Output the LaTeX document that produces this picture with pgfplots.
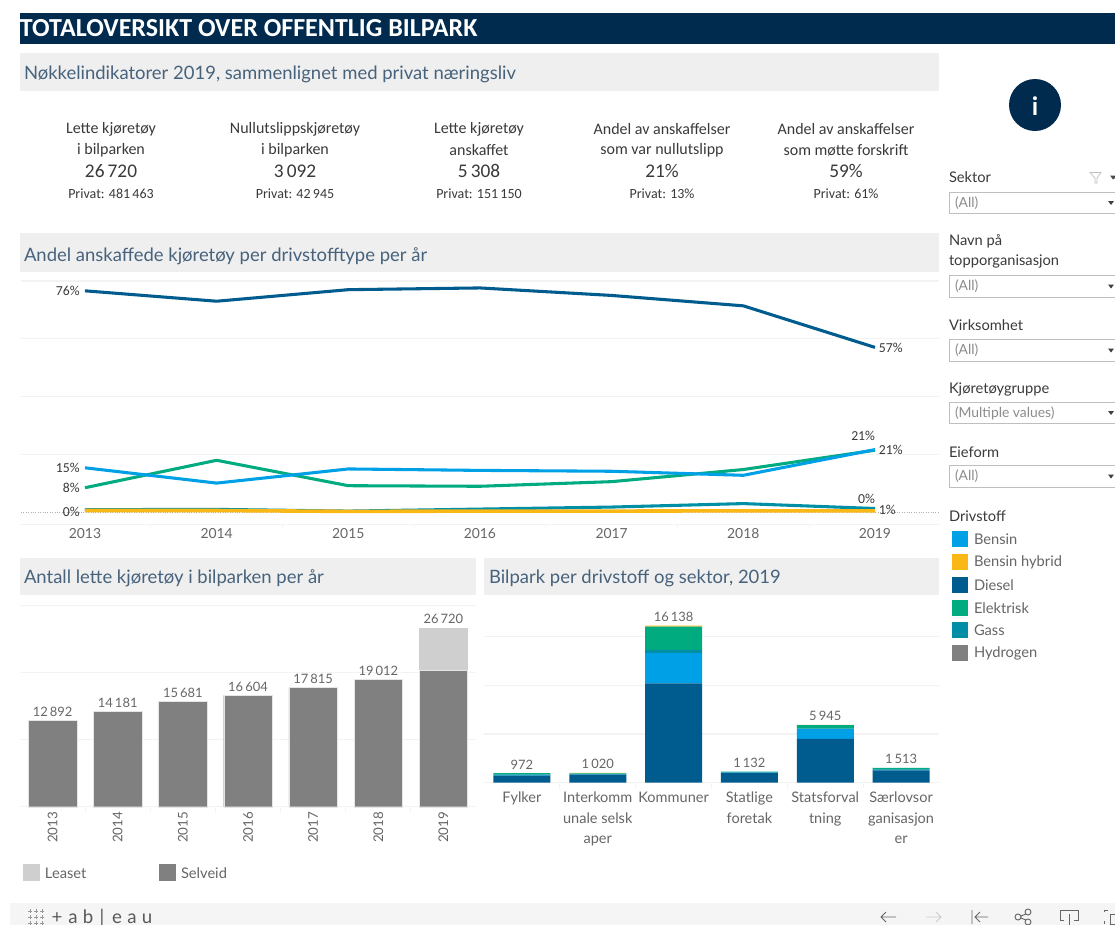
\documentclass[border=0pt]{standalone}
\usepackage{fontspec}
\setmainfont{Lato}
\newfontfamily\cond{Carlito}
\usepackage{pgfplots}
\pgfplotsset{compat=1.18}
\usepackage{pgfplotstable}

\definecolor{navy}{HTML}{002B4E}
\definecolor{band}{HTML}{EFEFEF}
\definecolor{foot}{HTML}{F5F5F5}
\definecolor{ttl}{HTML}{47627C}
\definecolor{txt}{HTML}{3A3A3A}
\definecolor{lbl}{HTML}{666666}
\definecolor{gridc}{HTML}{F3F3F3}
\definecolor{bensin}{HTML}{00A0E6}
\definecolor{hybrid}{HTML}{F9B816}
\definecolor{diesel}{HTML}{005B8F}
\definecolor{elektrisk}{HTML}{00AB80}
\definecolor{gass}{HTML}{008FA5}
\definecolor{hydrogen}{HTML}{808080}
\definecolor{leaset}{HTML}{CFCFCF}

\newcommand\fs[1]{\fontsize{#1}{1.3em}\selectfont}
\newcommand\ts{\kern0.16em}

% share per fuel, %
\pgfplotstableread{
year bensin hybrid diesel elektrisk gass
2013 15.3 0.5 76.6 8.4 0.8
2014 10.0 0.5 73.0 17.9 0.9
2015 14.9 0.2 77.0 9.1 0.3
2016 14.4 0.3 77.6 8.9 1.0
2017 14.1 0.3 75.0 10.5 1.7
2018 12.7 0.4 71.4 14.7 2.9
2019 21.6 0.4 57.0 21.4 1.2
}\andel

% fleet per year
\pgfplotstableread{
pos selveid leaset
0 12892 0
1 14181 0
2 15681 0
3 16604 0
4 17815 0
5 19012 0
6 20400 6320
}\bilpark

% fleet per sector 2019
\pgfplotstableread{
pos diesel bensin gass elektrisk hybrid
0 740 40 60 132 0
1 830 30 30 70 60
2 10200 3100 350 2380 108
3 1000 40 30 62 0
4 4490 1025 30 380 20
5 1270 60 50 133 0
}\sektor

\pgfplotsset{panel/.style={
  scale only axis, clip=false,
  axis y line*=left, axis x line*=bottom,
  y axis line style={draw=none},
  x axis line style={draw=gridc,-},
  major tick length=0pt,
  yticklabels={}, scaled y ticks=false,
  ymajorgrids, grid style={gridc,line width=0.8pt},
  minor x tick style={draw=gridc,line width=0.8pt},
  minor tick length=4pt,
  tick align=outside,
  x tick label style={text=lbl},
}}
\tikzset{total/.style={text=lbl,font=\fs{9.7},anchor=south,yshift=3pt},
  pct/.style={text=txt,font=\cond\fs{10.3}}}

\begin{document}
\begin{tikzpicture}[x=0.75pt,y=-0.75pt,every node/.style={inner sep=0pt,outer sep=0pt}]
\path[use as bounding box,fill=white] (0,0) rectangle (1115,925);

% bands
\fill[navy] (20,13) rectangle (1115,44);
\fill[band] (20,53) rectangle (939,91);
\fill[band] (20,233) rectangle (939,272);
\fill[band] (20,558) rectangle (476,595);
\fill[band] (484,558) rectangle (939,595);
\fill[foot] (10,903) rectangle (1115,925);

\node[anchor=west,text=white] at (20,28.5) {\cond\bfseries\fs{19.5}TOTALOVERSIKT OVER OFFENTLIG BILPARK};
\node[anchor=west,text=ttl] at (24,74.5) {\fs{13.85}Nøkkelindikatorer 2019, sammenlignet med privat næringsliv};
\node[anchor=west,text=ttl] at (24,256) {\fs{13.85}Andel anskaffede kjøretøy per drivstofftype per år};
\node[anchor=west,text=ttl] at (24,578.5) {\fs{13.85}Antall lette kjøretøy i bilparken per år};
\node[anchor=west,text=ttl] at (489,578.5) {\fs{13.85}Bilpark per drivstoff og sektor, 2019};

% key figures
\foreach \cx/\a/\b/\v/\p in {
  111/Lette kjøretøy/i bilparken/26\ts720/481\ts463,
  295/Nullutslippskjøretøy/i bilparken/3\ts092/42\ts945,
  479/Lette kjøretøy/anskaffet/5\ts308/151\ts150,
  662/Andel av anskaffelser/som var nullutslipp/21\%/13\%,
  846/Andel av anskaffelser/som møtte forskrift/59\%/61\%}{
  \node[text=txt] at (\cx,129) {\cond\fs{12}\a};
  \node[text=txt] at (\cx,150) {\cond\fs{12}\b};
  \node[text=txt] at (\cx,171) {\cond\fs{14.5}\v};
  \node[text=txt] at (\cx,193.5) {\cond\fs{10.5}Privat: \p};
}

% info button
\fill[navy] (1035,105) circle[radius=26];
\node[text=white] at (1035,106) {\bfseries\fs{19}i};

% filters
\foreach \y/\t in {177.5/Sektor,241.5/Navn på,261.5/topporganisasjon,325.5/Virksomhet,389.5/Kjøretøygruppe,452.5/Eieform,516.5/Drivstoff}{
  \node[anchor=west,text=txt] at (949,\y) {\fs{11}\t};
}
\foreach \ya/\yb/\t in {192/213/(All),275/297/(All),339/361/(All),402/423/(Multiple values),465/487/(All)}{
  \draw[black!25,line width=0.7pt] (949,\ya) rectangle (1120,\yb);
  \node[anchor=west,text=black!45] at (955,{(\ya+\yb)/2+0.5}) {\fs{10.4}\t};
  \fill[black!75] (1108,{(\ya+\yb)/2-1.5}) -- (1114,{(\ya+\yb)/2-1.5}) -- (1111,{(\ya+\yb)/2+2.5}) -- cycle;
}
\draw[black!25,line width=0.5pt] (1090,172.5) -- (1101,172.5) -- (1097,178) -- (1097,183) -- (1095,183) -- (1095,178) -- cycle;
\fill[black!70] (1110,175.5) -- (1115,175.5) -- (1115,178) -- (1113,179.5) -- cycle;

% fuel legend
\foreach \y/\c/\t in {539/bensin/Bensin,562/hybrid/Bensin hybrid,585/diesel/Diesel,608/elektrisk/Elektrisk,630/gass/Gass,653/hydrogen/Hydrogen}{
  \fill[\c] (952,\y-8) rectangle (968,\y+8);
  \node[anchor=west,text=lbl] at (974,\y) {\fs{11}\t};
}

% bottom-left legend
\fill[leaset] (23,864) rectangle (40,881);
\node[anchor=west,text=lbl] at (45,873) {\fs{11}Leaset};
\fill[hydrogen] (159,864) rectangle (176,881);
\node[anchor=west,text=lbl] at (181,873) {\fs{11}Selveid};

% footer
\foreach \dx in {-6,0,6}{\foreach \dy in {-6,0,6}{
  \draw[black!40,line width=0.5pt] (36+\dx-2,917+\dy) -- (36+\dx+2,917+\dy) (36+\dx,917+\dy-2) -- (36+\dx,917+\dy+2);
}}
\foreach \x/\t in {57/+,73/a,88/b,102/|,117/e,132/a,147/u}{
  \node[anchor=base,text=black!65] at (\x,923) {\fs{14}\t};
}
\begin{scope}[black!60,line width=0.7pt]
\draw (896,917) -- (881,917) (886,912) -- (881,917) -- (886,922);
\draw[black!20] (926,917) -- (941,917) (936,912) -- (941,917) -- (936,922);
\draw (972,910) -- (972,924) (988,917) -- (975,917) (980,912) -- (975,917) -- (980,922);
\draw (1018,917) circle[radius=3] (1028,912) circle[radius=3] (1028,922) circle[radius=3] (1021,916) -- (1026,914) (1021,918) -- (1026,920);
\draw (1064,920) -- (1060,920) -- (1060,910) -- (1078,910) -- (1078,920) -- (1074,920) (1069,914) -- (1069,925);
\draw (1104,912) -- (1104,910) -- (1108,910) (1104,921) -- (1104,924) (1110,914) rectangle (1120,924);
\end{scope}

\coordinate (L) at (21,524);
\coordinate (B) at (20,806.7);
\coordinate (S) at (484,782.7);

% line chart
\begin{axis}[panel, at={(L)}, anchor=south west,
  width=688.5pt, height=182.25pt,
  xmin=2012.514, xmax=2019.486, ymin=-4.17, ymax=80,
  xtick={2013,...,2019}, xticklabels={2013,2014,2015,2016,2017,2018,2019},
  minor xtick={2012.5,2013.5,2014.5,2015.5,2016.5,2017.5,2018.5},
  ytick={20,40,60,80},
  extra y ticks={0}, extra y tick style={grid style={black!30,densely dotted,line width=0.5pt},yticklabels={}},
  x tick label style={font=\fs{10.4},yshift=-3pt},
  every axis plot/.append style={line width=2.3pt,no markers,line join=round},
]
\addplot[diesel] table[x=year,y=diesel] {\andel};
\addplot[elektrisk] table[x=year,y=elektrisk] {\andel};
\addplot[bensin] table[x=year,y=bensin] {\andel};
\addplot[gass] table[x=year,y=gass] {\andel};
\addplot[hybrid,line width=2.7pt] table[x=year,y=hybrid] {\andel};
\node[pct,anchor=east] at (axis cs:2012.96,76.6) {76\%};
\node[pct,anchor=east] at (axis cs:2012.96,15.3) {15\%};
\node[pct,anchor=east] at (axis cs:2012.96,8.4) {8\%};
\node[pct,anchor=east] at (axis cs:2012.96,0) {0\%};
\node[pct,anchor=west] at (axis cs:2019.03,57) {57\%};
\node[pct,anchor=west] at (axis cs:2019.03,21.4) {21\%};
\node[pct,anchor=west] at (axis cs:2019.03,0.6) {1\%};
\node[pct,anchor=east] at (axis cs:2019,26.4) {21\%};
\node[pct,anchor=east] at (axis cs:2019,4.6) {0\%};
\end{axis}

% fleet per year
\begin{axis}[panel, at={(B)}, anchor=south west,
  width=342pt, height=150.75pt,
  xmin=-0.5, xmax=6.5, ymin=0, ymax=30000,
  ybar stacked, bar width=36.4pt,
  xtick={0,...,6}, xticklabels={2013,2014,2015,2016,2017,2018,2019},
  minor xtick={0.5,1.5,2.5,3.5,4.5,5.5},
  ytick={10000,20000,30000},
  x tick label style={font=\fs{10},rotate=90,anchor=east,xshift=-4pt},
]
\addplot[fill=hydrogen,draw=black!10,line width=0.3pt] table[x=pos,y=selveid] {\bilpark};
\addplot[fill=leaset,draw=none] table[x=pos,y=leaset] {\bilpark};
\node[total] at (axis cs:0,12892) {12\ts892};
\node[total] at (axis cs:1,14181) {14\ts181};
\node[total] at (axis cs:2,15681) {15\ts681};
\node[total] at (axis cs:3,16604) {16\ts604};
\node[total] at (axis cs:4,17815) {17\ts815};
\node[total] at (axis cs:5,19012) {19\ts012};
\node[total] at (axis cs:6,26720) {26\ts720};
\end{axis}

% fleet per sector
\begin{axis}[panel, at={(S)}, anchor=south west,
  width=341.25pt, height=137pt,
  xmin=-0.5, xmax=5.5, ymin=0, ymax=18760,
  ybar stacked, bar width=42.75pt,
  xtick={0,...,5},
  xticklabels={Fylker,{Interkomm\\unale selsk\\aper},Kommuner,{Statlige\\foretak},{Statsforval\\tning},{Særlovsor\\ganisasjon\\er}},
  minor xtick={0.5,1.5,2.5,3.5,4.5},
  ytick={5000,10000,15000},
  x tick label style={font=\fontsize{10.9}{15.2}\selectfont,align=center,anchor=north,yshift=-7pt},
]
\addplot[fill=diesel,draw=none] table[x=pos,y=diesel] {\sektor};
\addplot[fill=bensin,draw=none] table[x=pos,y=bensin] {\sektor};
\addplot[fill=gass,draw=none] table[x=pos,y=gass] {\sektor};
\addplot[fill=elektrisk,draw=none] table[x=pos,y=elektrisk] {\sektor};
\addplot[fill=hybrid,draw=none] table[x=pos,y=hybrid] {\sektor};
\node[total] at (axis cs:0,972) {972};
\node[total] at (axis cs:1,1020) {1\ts020};
\node[total] at (axis cs:2,16138) {16\ts138};
\node[total] at (axis cs:3,1132) {1\ts132};
\node[total] at (axis cs:4,5945) {5\ts945};
\node[total] at (axis cs:5,1513) {1\ts513};
\end{axis}
\end{tikzpicture}
\end{document}
